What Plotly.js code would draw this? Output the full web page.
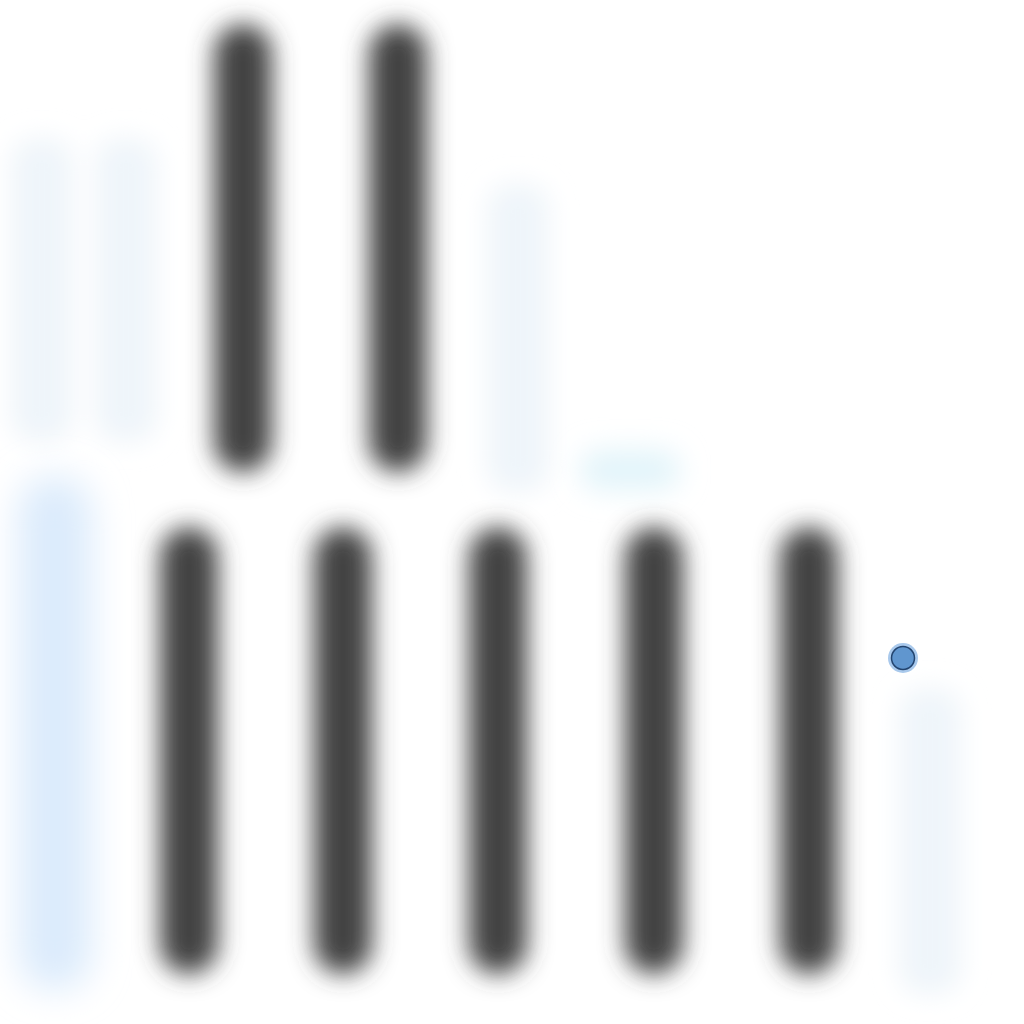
<!DOCTYPE html>
<html>
<head>
<meta charset="utf-8">
<script src="https://cdn.plot.ly/plotly-3.0.1.min.js"></script>
<style>
  html, body { margin: 0; padding: 0; background: #ffffff; }
  #chart { width: 1024px; height: 1024px; }
</style>
</head>
<body>
<svg width="0" height="0" style="position:absolute">
  <defs>
    <filter id="blurDark" x="-80%" y="-20%" width="260%" height="140%">
      <feGaussianBlur stdDeviation="12"/>
    </filter>
    <filter id="blurPale" x="-80%" y="-30%" width="260%" height="160%">
      <feGaussianBlur stdDeviation="13"/>
    </filter>
    <filter id="blurBlue" x="-100%" y="-30%" width="300%" height="160%">
      <feGaussianBlur stdDeviation="18"/>
    </filter>
    <filter id="blurGlow" x="-80%" y="-150%" width="260%" height="400%">
      <feGaussianBlur stdDeviation="14"/>
    </filter>
  </defs>
</svg>
<div id="chart"></div>
<script>
// dark columns, upper row
var topX = [243, 398];
var topLow = [552, 552];
var topHigh = [1000, 1000];

// dark columns, lower row
var lowX = [189, 343, 498, 654, 809];
var lowLow = [50, 50, 50, 50, 50];
var lowHigh = [497, 497, 497, 497, 497];

// pale columns
var paleX = [42, 126, 518, 930];
var paleLow = [582, 582, 532, 30];
var paleHigh = [886, 886, 840, 336];

// bright pale column on the left
var blueX = [55];
var blueLow = [34];
var blueHigh = [548];

// flat glow under the upper row
var glowX = [630];
var glowLow = [534];
var glowHigh = [574];

// single point marker
var dotX = [903];
var dotY = [366];

function span(lo, hi) {
    return hi.map(function(h, i) { return h - lo[i]; });
}

var traceTop = {
    x: topX, y: span(topLow, topHigh), base: topLow,
    type: 'bar', width: 58,
    marker: {color: '#424242', cornerradius: 29},
    hoverinfo: 'none'
};
var traceLow = {
    x: lowX, y: span(lowLow, lowHigh), base: lowLow,
    type: 'bar', width: 58,
    marker: {color: '#424242', cornerradius: 29},
    hoverinfo: 'none'
};
var tracePale = {
    x: paleX, y: span(paleLow, paleHigh), base: paleLow,
    type: 'bar', width: 62,
    marker: {color: '#eff5fa', cornerradius: 24},
    hoverinfo: 'none'
};
var traceBlue = {
    x: blueX, y: span(blueLow, blueHigh), base: blueLow,
    type: 'bar', width: 74,
    marker: {color: '#dbebfc', cornerradius: 36},
    hoverinfo: 'none'
};
var traceGlow = {
    x: glowX, y: span(glowLow, glowHigh), base: glowLow,
    type: 'bar', width: 100,
    marker: {color: '#e2f4fa', cornerradius: 20},
    hoverinfo: 'none'
};
var traceHalo = {
    x: dotX, y: dotY,
    mode: 'markers', type: 'scatter',
    marker: {color: '#a9c9ec', size: 30},
    hoverinfo: 'none'
};
var traceDot = {
    x: dotX, y: dotY,
    mode: 'markers', type: 'scatter',
    marker: {color: '#6096cf', size: 23, line: {color: '#23446f', width: 1.5}},
    hoverinfo: 'none'
};

var layout = {
    width: 1024, height: 1024,
    margin: {t: 0, r: 0, l: 0, b: 0},
    paper_bgcolor: '#ffffff', plot_bgcolor: '#ffffff',
    showlegend: false,
    barmode: 'overlay',
    xaxis: {range: [0, 1024], visible: false, fixedrange: true},
    yaxis: {range: [0, 1024], visible: false, fixedrange: true}
};

Plotly.newPlot('chart', [tracePale, traceBlue, traceGlow, traceTop, traceLow, traceHalo, traceDot], layout,
    {responsive: false, displayModeBar: false, staticPlot: true}).then(function(gd) {
    var groups = gd.querySelectorAll('g.trace.bars');
    var blurs = ['blurPale', 'blurBlue', 'blurGlow', 'blurDark', 'blurDark'];
    groups.forEach(function(g, i) {
        g.setAttribute('filter', 'url(#' + blurs[i] + ')');
    });
});
</script>
</body>
</html>
